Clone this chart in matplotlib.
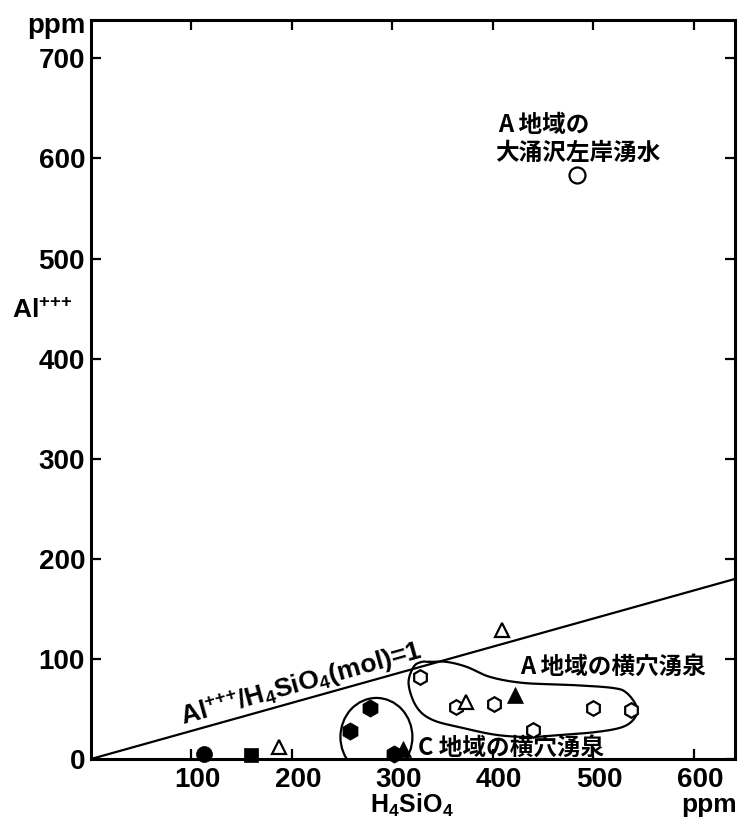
import numpy as np
import matplotlib
matplotlib.use("Agg")
import matplotlib.pyplot as plt
from matplotlib.patches import Ellipse
from matplotlib.transforms import ScaledTranslation

# ---- data (ppm) ----
x_ticks = [100, 200, 300, 400, 500, 600]
y_ticks = [0, 100, 200, 300, 400, 500, 600, 700]

open_hex_x = [327, 363, 401, 440, 500, 537]
open_hex_y = [82, 52, 55, 29, 51, 49]
open_tri_x = [187, 373, 409]
open_tri_y = [12, 57, 129]
filled_tri_x = [422, 310]
filled_tri_y = [64, 10]
filled_hex_x = [258, 278, 301]
filled_hex_y = [28, 51, 5]
filled_circle_x = [112]
filled_circle_y = [5]
filled_square_x = [159]
filled_square_y = [4]
open_circle_x = [484]
open_circle_y = [583]

# molar masses for the Al/H4SiO4 = 1 reference line
M_AL = 26.98
M_H4SIO4 = 96.11

# outline of the A-area horizontal-tunnel spring group
group_a_x = [337, 354, 374, 397, 430, 477, 519, 533, 543, 541, 529, 503,
             467, 437, 404, 370, 340, 324, 316, 321, 329]
group_a_y = [97, 97, 92, 82, 76, 74, 71, 66, 52, 41, 32, 27,
             24, 22, 24, 31, 39, 52, 75, 92, 97]
# C-area group outline: centre, width, height
group_c = (284, 22, 71.6, 78)

# ---- styling ----
plt.rcParams['mathtext.fontset'] = 'custom'
plt.rcParams['mathtext.rm'] = 'Liberation Sans:bold'
plt.rcParams['mathtext.it'] = 'Liberation Sans:bold'
plt.rcParams['mathtext.bf'] = 'Liberation Sans:bold'
plt.rcParams['mathtext.default'] = 'rm'

NUM = dict(family='Liberation Sans', weight='bold')
JP = dict(family=['Noto Sans CJK JP', 'DejaVu Sans'], weight='bold')
LW = 1.6

W, H = 745, 817
fig = plt.figure(figsize=(W / 100, H / 100), dpi=100)
ax = fig.add_axes([91 / W, 58 / H, 644 / W, 739 / H])
ax.set_xlim(0, 640.8)
ax.set_ylim(0, 738.3)

for s in ax.spines.values():
    s.set_linewidth(2.2)

ax.set_xticks(x_ticks)
ax.set_xticklabels([str(v) for v in x_ticks])
ax.set_yticks(y_ticks)
ax.set_yticklabels([str(v) for v in y_ticks])
ax.tick_params(direction='in', length=7, width=LW, top=True, right=True,
               labeltop=False, labelright=False)
ax.tick_params(axis='x', pad=6.0)
ax.tick_params(axis='y', pad=4.3)
for lbl in ax.get_xticklabels() + ax.get_yticklabels():
    lbl.set_fontfamily(NUM['family'])
    lbl.set_fontweight('bold')
    lbl.set_fontsize(20)
shift = ScaledTranslation(6 / 100, 0, fig.dpi_scale_trans)
for tk in ax.xaxis.get_major_ticks():
    tk.label1.set_transform(tk.label1.get_transform() + shift)

# reference line Al+++/H4SiO4 (mol) = 1
ratio = M_AL / M_H4SIO4
xl = np.array([0, 640.8])
ax.plot(xl, xl * ratio, color='k', lw=LW, zorder=2)

p0 = ax.transData.transform((0, 0))
p1 = ax.transData.transform((600, 600 * ratio))
ang = np.degrees(np.arctan2(p1[1] - p0[1], p1[0] - p0[0]))
ax.text(91.5, 34, r'Al$^{{+}{+}{+}}$/H$_4$SiO$_4$(mol)=1', rotation=ang,
        rotation_mode='anchor', ha='left', va='baseline', fontsize=19, **NUM)


def closed_spline(px, py, n=30):
    pts = np.column_stack([px, py]).astype(float)
    N = len(pts)
    t = np.linspace(0, 1, n, endpoint=False)[:, None]
    out = []
    for i in range(N):
        a, b, c, d = pts[(i - 1) % N], pts[i], pts[(i + 1) % N], pts[(i + 2) % N]
        seg = 0.5 * (2 * b + (-a + c) * t + (2 * a - 5 * b + 4 * c - d) * t ** 2
                     + (-a + 3 * b - 3 * c + d) * t ** 3)
        out.append(seg)
    out.append(pts[:1])
    return np.vstack(out)


outline = closed_spline(group_a_x, group_a_y)
ax.plot(outline[:, 0], outline[:, 1], color='k', lw=LW, zorder=2)
ax.add_patch(Ellipse(group_c[:2], group_c[2], group_c[3], fill=False,
                     edgecolor='k', lw=LW, zorder=2))

# samples
mk = dict(linestyle='none', clip_on=False, zorder=4)
ax.plot(open_hex_x, open_hex_y, marker='h', ms=10.5, mfc='white', mec='k', mew=LW, **mk)
ax.plot(open_tri_x, open_tri_y, marker='^', ms=9.5, mfc='white', mec='k', mew=LW, **mk)
ax.plot(filled_tri_x, filled_tri_y, marker='^', ms=11.5, mfc='k', mec='k', mew=0.5, **mk)
ax.plot(filled_hex_x, filled_hex_y, marker='h', ms=12.5, mfc='k', mec='k', mew=0.5, **mk)
ax.plot(filled_circle_x, filled_circle_y, marker='o', ms=11.5, mfc='k', mec='k', mew=0.5, **mk)
ax.plot(filled_square_x, filled_square_y, marker='s', ms=10.5, mfc='k', mec='k', mew=0.5, **mk)
ax.plot(open_circle_x, open_circle_y, marker='o', ms=11.5, mfc='white', mec='k', mew=LW, **mk)

# area labels
ax.text(405, 633.4, 'A 地域の', ha='left', va='center', fontsize=17, **JP)
ax.text(402, 605.4, '大涌沢左岸湧水', ha='left', va='center', fontsize=17, **JP)
ax.text(427, 92, 'A 地域の横穴湧泉', ha='left', va='center', fontsize=17, **JP)
ax.text(325.4, 11, 'C 地域の横穴湧泉', ha='left', va='center', fontsize=17, **JP)

# axis titles and units
fig.text(56.5 / W, 1 - 26 / H, 'ppm', ha='center', va='center', fontsize=20, **NUM)
fig.text(709 / W, 1 - 805 / H, 'ppm', ha='center', va='center', fontsize=19, **NUM)
fig.text(412 / W, 1 - 805 / H, r'H$_4$SiO$_4$', ha='center', va='center', fontsize=18, **NUM)
fig.text(12 / W, 1 - 311 / H, r'Al$^{{+}{+}{+}}$', ha='left', va='center', fontsize=19, **NUM)

fig.savefig('out.png', dpi=100, facecolor='white')
